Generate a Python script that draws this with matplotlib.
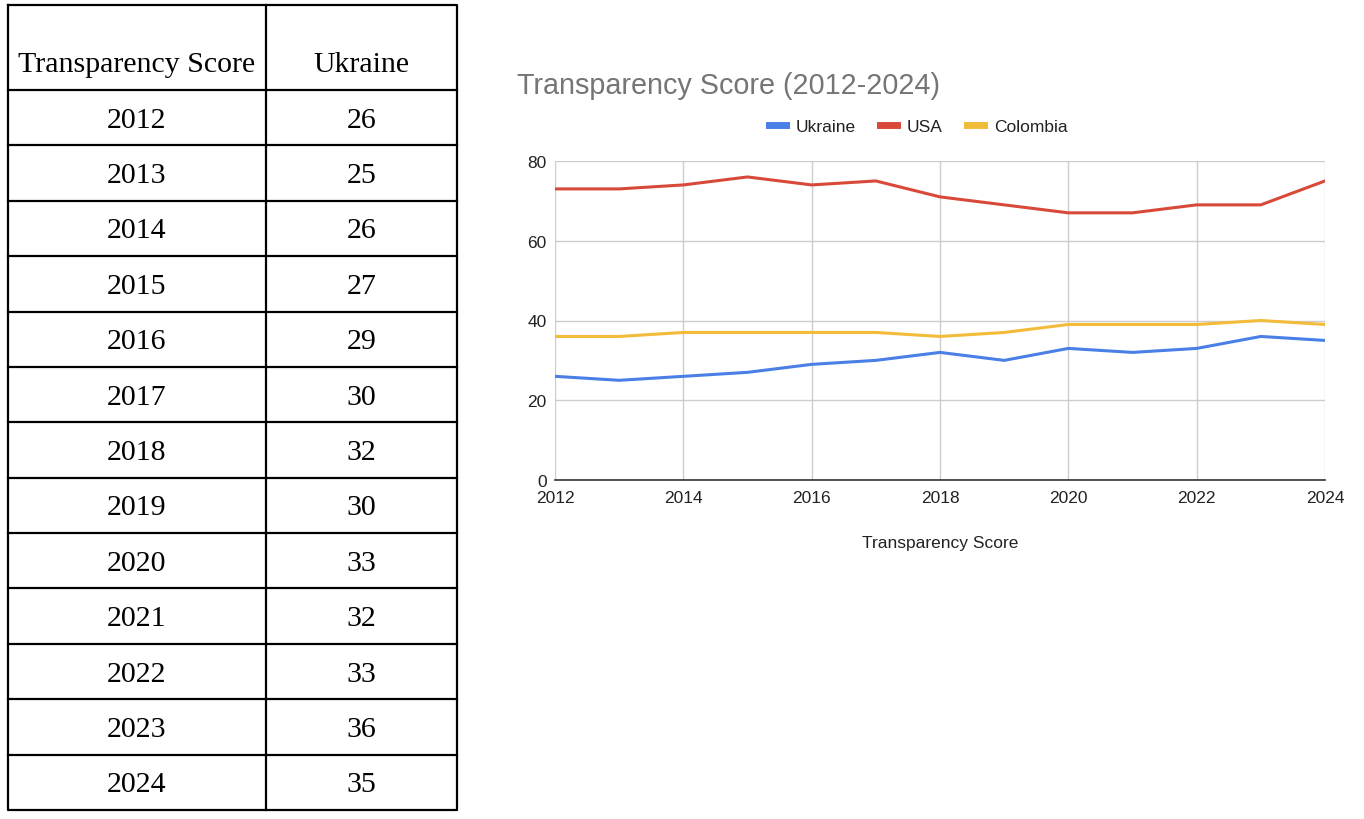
import matplotlib
matplotlib.use("Agg")
import matplotlib.pyplot as plt
from matplotlib.lines import Line2D

years = [2012, 2013, 2014, 2015, 2016, 2017, 2018, 2019, 2020, 2021, 2022, 2023, 2024]
ukraine = [26, 25, 26, 27, 29, 30, 32, 30, 33, 32, 33, 36, 35]
usa = [73, 73, 74, 76, 74, 75, 71, 69, 67, 67, 69, 69, 75]
colombia = [36, 36, 37, 37, 37, 37, 36, 37, 39, 39, 39, 40, 39]
table_headers = ["Transparency Score", "Ukraine"]
chart_title = "Transparency Score (2012-2024)"
x_label = "Transparency Score"
y_ticks = [0, 20, 40, 60, 80]
x_ticks = [2012, 2014, 2016, 2018, 2020, 2022, 2024]

W, H = 1364, 820
fig = plt.figure(figsize=(W / 100, H / 100), dpi=100)

# ---- table (pixel coordinate overlay) ----
tax = fig.add_axes([0, 0, 1, 1])
tax.set_xlim(0, W)
tax.set_ylim(H, 0)
tax.axis("off")
serif = ["Liberation Serif", "DejaVu Serif"]
x0, xm, x1 = 8, 266, 457
top, head_bot = 6, 91
row_h = (811 - 91) / len(years)
bottom = head_bot + row_h * len(years)
lw = 1.6
tax.plot([x0, x1, x1, x0, x0], [top, top, bottom, bottom, top], color="black", lw=lw)
tax.plot([xm, xm], [top, bottom], color="black", lw=lw)
tax.plot([x0, x1], [head_bot, head_bot], color="black", lw=lw)
for i in range(1, len(years)):
    y = head_bot + row_h * i
    tax.plot([x0, x1], [y, y], color="black", lw=lw)
fs_t = 21.5
tax.text((x0 + xm) / 2, 65, table_headers[0], ha="center", va="center",
         fontsize=fs_t, family=serif)
tax.text((xm + x1) / 2, 65, table_headers[1], ha="center", va="center",
         fontsize=fs_t, family=serif)
for i, (yr, v) in enumerate(zip(years, ukraine)):
    yc = head_bot + row_h * (i + 0.5) + 2
    tax.text((x0 + xm) / 2, yc, str(yr), ha="center", va="center",
             fontsize=fs_t, family=serif)
    tax.text((xm + x1) / 2, yc, str(v), ha="center", va="center",
             fontsize=fs_t, family=serif)

# ---- line chart ----
sans = ["Liberation Sans", "DejaVu Sans"]
L, R, T, B = 555, 1325, 162, 481
ax = fig.add_axes([L / W, 1 - B / H, (R - L) / W, (B - T) / H])
c_ukr, c_usa, c_col = "#4A7FE6", "#D9493A", "#F2BB3A"
ax.plot(years, ukraine, color=c_ukr, lw=2.2, label="Ukraine", solid_capstyle="round")
ax.plot(years, usa, color=c_usa, lw=2.2, label="USA", solid_capstyle="round")
ax.plot(years, colombia, color=c_col, lw=2.2, label="Colombia", solid_capstyle="round")
ax.set_xlim(2012, 2024)
ax.set_ylim(0, 80)
ax.set_yticks(y_ticks)
ax.set_xticks(x_ticks)
ax.grid(True, color="#cccccc", lw=1.0)
ax.set_axisbelow(True)
for s in ["top", "right", "left"]:
    ax.spines[s].set_visible(False)
ax.spines["bottom"].set_color("#333333")
ax.spines["bottom"].set_linewidth(1.2)
ax.spines["bottom"].set_zorder(5)
ax.tick_params(length=0, labelsize=12.5, colors="#222222", pad=6)
for lab in ax.get_xticklabels() + ax.get_yticklabels():
    lab.set_family(sans)
ax.tick_params(axis="x", pad=7)
ax.set_xlabel(x_label, fontsize=12.5, family=sans, color="#222222", labelpad=22)

fig.text(517 / W, 1 - 86 / H, chart_title, fontsize=20.7, color="#757575",
         family=sans, ha="left", va="center")

handles = [Line2D([], [], color=c, lw=5) for c in (c_ukr, c_usa, c_col)]
leg = fig.legend(handles, ["Ukraine", "USA", "Colombia"], loc="center",
                 bbox_to_anchor=(918 / W, 1 - 127 / H), ncol=3, frameon=False,
                 prop={"family": sans, "size": 12.5}, handlelength=1.0,
                 handletextpad=0.55, columnspacing=1.4)
for t in leg.get_texts():
    t.set_color("#222222")

fig.savefig("out.png", dpi=100)
